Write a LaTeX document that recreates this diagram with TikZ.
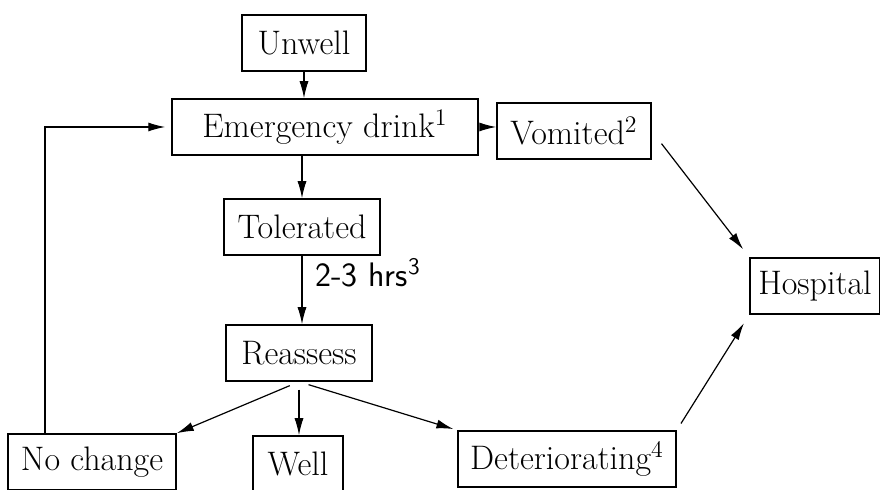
\documentclass[tikz,border=0pt]{standalone}
\usepackage{tikz}
\usetikzlibrary{positioning, calc, arrows.meta}

\begin{document}
\begin{tikzpicture}[x=0.5pt, y=-0.5pt, box/.style={draw, line width=0.75pt, minimum height=28pt, inner sep=2pt, font=\fontsize{17}{20}\selectfont}, edge/.style={-{Latex[length=8.5pt, width=4.5pt]}, semithick}]

	\useasboundingbox (0,0) rectangle (880,490);

	\foreach \n/\xpos/\ypos/\boxw/\txt in {unwell/304/43/62/Unwell, drink/325/127/153/{Emergency drink\textsuperscript{1}}, vomited/574/131/77/{Vomited\textsuperscript{2}}, tolerated/302/227/78/Tolerated, reassess/299/353/73/Reassess, nochange/92/462/84/No change, well/298/464/45/Well, deter/567/459/109/{Deteriorating\textsuperscript{4}}, hospital/815/286/65/Hospital}
	{
		\node[box, minimum width=\boxw pt] (\n) at (\xpos,\ypos) {\txt};
	}

	\draw[edge] (unwell.south) -- (unwell.south |- drink.north);
	\draw[edge] (tolerated.north |- drink.south) -- (tolerated.north);
	\draw[edge, shorten <=3pt] (drink.east) -- (drink.east -| vomited.west);
	\draw[edge] (tolerated.south) -- node[pos=.25, right=3pt, font=\sffamily\fontsize{17}{20}\selectfont] (hrs) {2-3 hrs\textsuperscript{3}} (tolerated.south |- reassess.north);
	\draw[edge, shorten <=4pt] (reassess.south) -- (reassess.south |- well.north);

	\draw[edge, shorten <=5pt] (reassess.south) -- (nochange.north east);
	\draw[edge, shorten <=5pt, shorten >=2pt] (reassess.south) -- (deter.north west);
	\draw[edge, shorten <=8pt, shorten >=5pt] (vomited.east) -- (hospital.north west);
	\draw[edge, shorten <=4pt, shorten >=5pt] (deter.north east) -- (hospital.south west);

	\coordinate (loop) at (45,127);
	\draw[edge, shorten >=3pt] (nochange.north -| loop) |- (drink.west);

\end{tikzpicture}
\end{document}
